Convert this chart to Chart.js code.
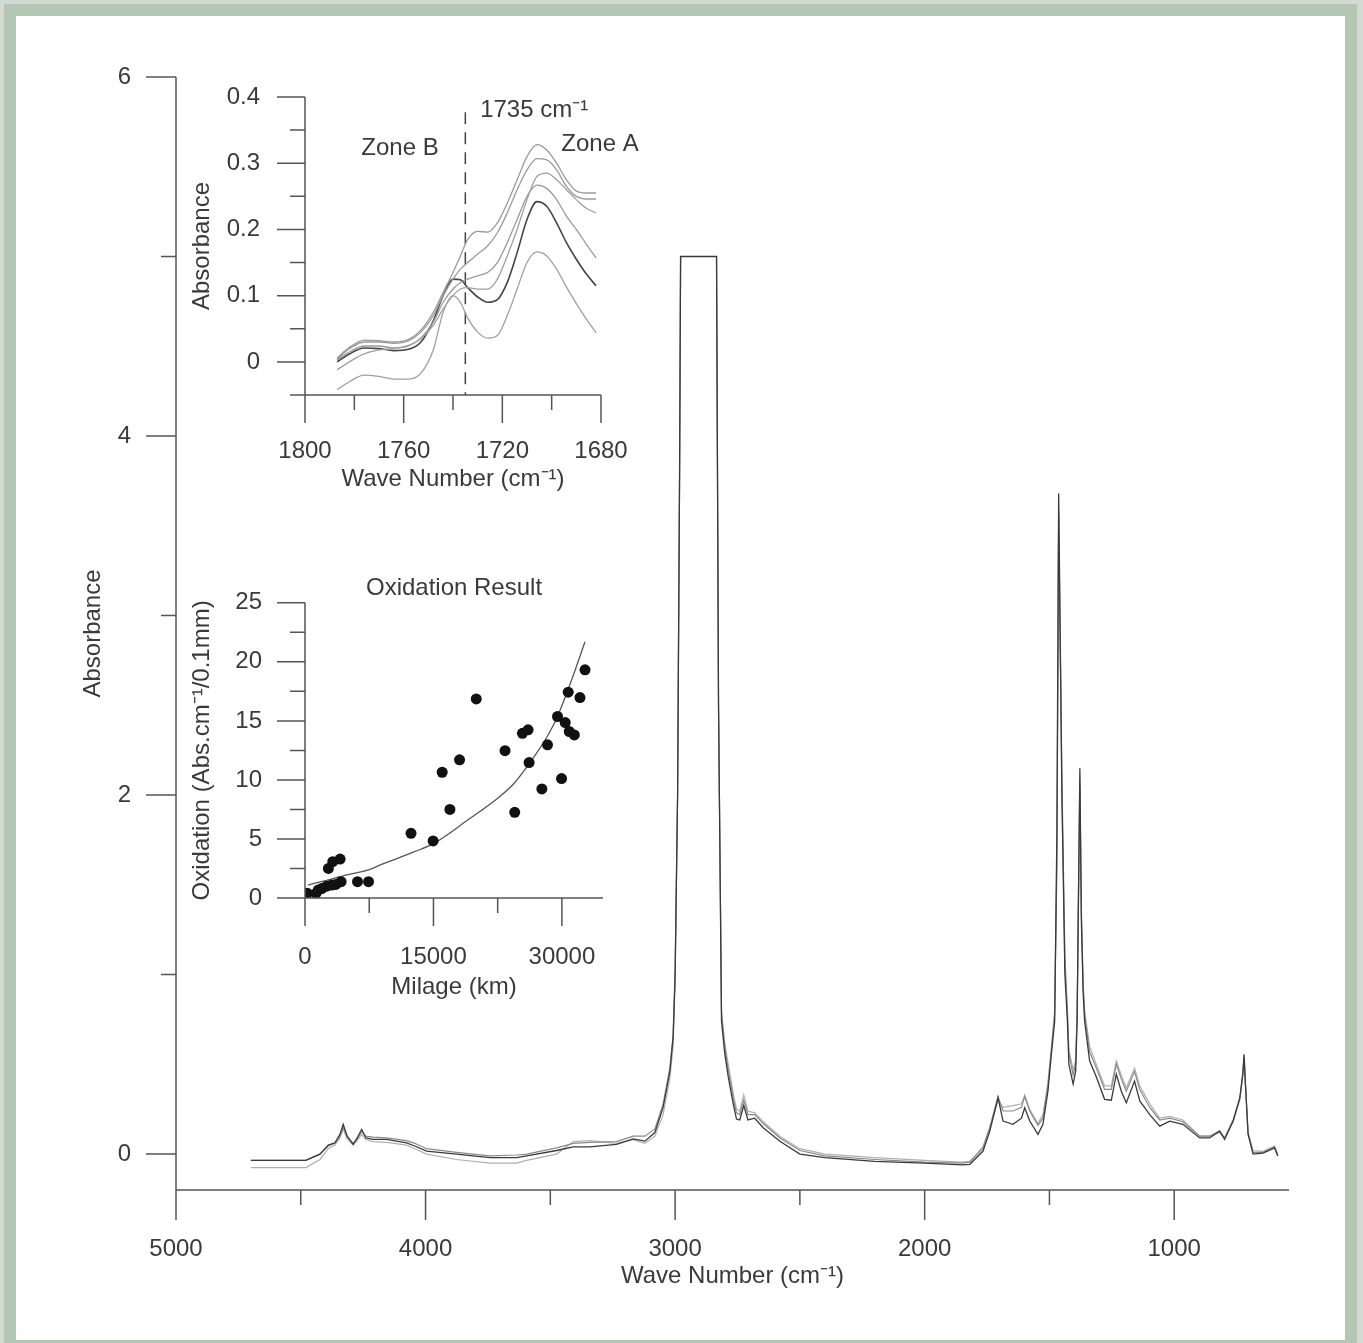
<!DOCTYPE html>
<html>
<head>
<meta charset="utf-8">
<script src="https://cdn.jsdelivr.net/npm/chart.js@4.4.0/dist/chart.umd.min.js"></script>
<style>
  html, body { margin: 0; padding: 0; }
  body { width: 1363px; height: 1343px; background: #d3d9d3; position: relative; overflow: hidden; }
  #frame { position: absolute; left: 4px; top: 4px; width: 1353px; height: 1348px; box-sizing: border-box;
           border: 12px solid #b4c6b4; background: #fff; }
  canvas { position: absolute; }
</style>
</head>
<body>
<div id="frame"></div>
<canvas id="main" width="1363" height="1343" style="left:0;top:0"></canvas>
<canvas id="zoom" width="480" height="440" style="left:180px;top:60px"></canvas>
<canvas id="oxid" width="480" height="460" style="left:180px;top:560px"></canvas>
<script>
// main spectrum (cm-1 -> absorbance), three overlapping samples
var waveNumbers = [4700, 4480, 4423, 4390, 4363, 4343, 4330, 4314, 4290, 4274,
  4256, 4239, 4210, 4156, 4076, 4043, 3996, 3876, 3742, 3635,
  3595, 3475, 3408, 3342, 3235, 3168, 3121, 3081, 3048, 3021,
  3008, 3000, 2990, 2982, 2978, 2834, 2826, 2814, 2801, 2787,
  2767, 2754, 2741, 2725, 2708, 2681, 2647, 2580, 2500, 2400,
  2200, 2000, 1850, 1819, 1766, 1739, 1706, 1686, 1646, 1612,
  1599, 1579, 1546, 1526, 1506, 1492, 1479, 1470, 1463, 1450,
  1438, 1428, 1422, 1405, 1395, 1389, 1384, 1378, 1372, 1365,
  1359, 1339, 1312, 1279, 1252, 1232, 1212, 1192, 1159, 1138,
  1098, 1058, 1018, 965, 898, 858, 818, 798, 764, 737,
  725, 720, 715, 704, 684, 644, 598, 585];
var absDark = [-0.035, -0.035, 0.0, 0.05, 0.063, 0.11, 0.166, 0.1, 0.054, 0.09,
  0.138, 0.09, 0.082, 0.082, 0.063, 0.045, 0.017, 0.0, -0.02, -0.02,
  -0.01, 0.02, 0.04, 0.04, 0.054, 0.085, 0.072, 0.12, 0.26, 0.46,
  0.65, 1.0, 2.0, 3.8, 5.0, 5.0, 2.5, 0.74, 0.56, 0.43,
  0.28, 0.195, 0.19, 0.27, 0.19, 0.2, 0.147, 0.072, 0.0, -0.02,
  -0.04, -0.05, -0.06, -0.057, 0.017, 0.128, 0.314, 0.184, 0.166, 0.2,
  0.258, 0.184, 0.11, 0.166, 0.35, 0.56, 0.74, 1.8, 3.68, 2.0,
  1.0, 0.74, 0.5, 0.39, 0.46, 0.74, 1.4, 2.15, 1.3, 0.9,
  0.74, 0.52, 0.43, 0.305, 0.3, 0.445, 0.35, 0.286, 0.407, 0.296,
  0.22, 0.156, 0.184, 0.166, 0.09, 0.09, 0.128, 0.082, 0.184, 0.314,
  0.45, 0.556, 0.4, 0.11, 0.0, 0.005, 0.035, -0.01];
var absMid = [-0.035, -0.035, 0.0, 0.045, 0.06, 0.1, 0.15, 0.095, 0.06, 0.085,
  0.125, 0.1, 0.095, 0.09, 0.075, 0.06, 0.03, 0.01, -0.01, -0.005,
  0.0, 0.035, 0.06, 0.065, 0.07, 0.1, 0.1, 0.14, 0.28, 0.48,
  0.66, 1.0, 2.0, 3.8, 5.0, 5.0, 2.5, 0.78, 0.6, 0.47,
  0.31, 0.23, 0.22, 0.3, 0.22, 0.22, 0.17, 0.09, 0.02, -0.01,
  -0.03, -0.045, -0.05, -0.045, 0.04, 0.15, 0.32, 0.24, 0.24, 0.26,
  0.32, 0.24, 0.16, 0.2, 0.38, 0.58, 0.78, 1.6, 3.55, 2.1,
  1.1, 0.8, 0.56, 0.44, 0.5, 0.78, 1.35, 2.05, 1.35, 0.95,
  0.78, 0.57, 0.48, 0.36, 0.36, 0.5, 0.42, 0.35, 0.46, 0.36,
  0.26, 0.19, 0.2, 0.18, 0.1, 0.1, 0.13, 0.09, 0.19, 0.31,
  0.45, 0.54, 0.4, 0.12, 0.01, 0.01, 0.04, -0.005];
var absLight = [-0.075, -0.075, -0.03, 0.03, 0.05, 0.09, 0.14, 0.085, 0.05, 0.075,
  0.11, 0.08, 0.07, 0.065, 0.05, 0.03, 0.0, -0.03, -0.05, -0.05,
  -0.035, 0.0, 0.07, 0.075, 0.06, 0.08, 0.06, 0.1, 0.22, 0.42,
  0.6, 0.95, 2.0, 3.8, 5.0, 5.0, 2.5, 0.8, 0.62, 0.5,
  0.34, 0.25, 0.24, 0.33, 0.24, 0.23, 0.18, 0.1, 0.03, 0.0,
  -0.02, -0.035, -0.045, -0.04, 0.03, 0.14, 0.3, 0.26, 0.27, 0.28,
  0.33, 0.25, 0.17, 0.22, 0.4, 0.6, 0.8, 1.7, 3.6, 2.0,
  1.05, 0.8, 0.58, 0.47, 0.52, 0.8, 1.4, 2.1, 1.35, 0.95,
  0.8, 0.6, 0.5, 0.38, 0.38, 0.52, 0.44, 0.37, 0.48, 0.38,
  0.28, 0.2, 0.21, 0.19, 0.1, 0.1, 0.12, 0.09, 0.18, 0.3,
  0.44, 0.53, 0.4, 0.12, 0.02, 0.015, 0.045, 0.0];
var mainXTicks = [5000, 4000, 3000, 2000, 1000];
var mainXMinor = [4500, 3500, 2500, 1500];
var mainYTicks = [0, 2, 4, 6];
var mainYMinor = [1, 3, 5];

// carbonyl zoom inset
var zoomWave = [1787, 1782, 1776, 1770, 1764, 1758, 1753, 1748, 1744, 1740, 1737, 1734, 1730,
  1726, 1722, 1718, 1714, 1710, 1706, 1702, 1698, 1694, 1690, 1686, 1682];
var zoom1 = [0.006, 0.022, 0.033, 0.032, 0.030, 0.034, 0.048, 0.075, 0.105, 0.135, 0.160, 0.185, 0.197,
  0.196, 0.210, 0.240, 0.275, 0.310, 0.328, 0.320, 0.300, 0.275, 0.258, 0.255, 0.255];
var zoom2 = [0.004, 0.020, 0.030, 0.030, 0.028, 0.032, 0.045, 0.070, 0.100, 0.125, 0.140, 0.150, 0.163,
  0.175, 0.195, 0.225, 0.260, 0.290, 0.307, 0.305, 0.290, 0.265, 0.250, 0.246, 0.246];
var zoom3 = [-0.012, 0.000, 0.012, 0.018, 0.020, 0.025, 0.035, 0.055, 0.080, 0.100, 0.110, 0.112, 0.110,
  0.110, 0.125, 0.160, 0.200, 0.245, 0.280, 0.285, 0.275, 0.260, 0.245, 0.232, 0.225];
var zoom4 = [0.003, 0.015, 0.024, 0.024, 0.021, 0.024, 0.036, 0.060, 0.090, 0.110, 0.120, 0.125, 0.130,
  0.135, 0.150, 0.180, 0.215, 0.250, 0.267, 0.262, 0.245, 0.220, 0.200, 0.178, 0.157];
var zoom5 = [0.000, 0.012, 0.021, 0.020, 0.017, 0.019, 0.030, 0.062, 0.100, 0.125, 0.124, 0.112, 0.098,
  0.090, 0.094, 0.120, 0.165, 0.215, 0.242, 0.235, 0.210, 0.180, 0.155, 0.133, 0.115];
var zoom6 = [-0.042, -0.030, -0.020, -0.022, -0.026, -0.026, -0.017, 0.018, 0.075, 0.100, 0.090, 0.066, 0.045,
  0.036, 0.040, 0.070, 0.110, 0.150, 0.166, 0.160, 0.140, 0.113, 0.088, 0.065, 0.044];
var zoomXTicks = [1800, 1760, 1720, 1680];
var zoomXMinor = [1780, 1740, 1700];
var zoomYTicks = [0, 0.1, 0.2, 0.3, 0.4];
var zoomYMinor = [-0.05, 0.05, 0.15, 0.25, 0.35];

// oxidation vs milage inset
var mileage = [273, 1290, 1560, 1950, 2540, 3125, 3600, 4220, 6130, 7420, 2730, 3240, 4100,
  12380, 14960, 16020, 16920, 18050, 20000, 23360, 24490, 25390, 26050, 26170, 27660,
  28320, 29490, 29960, 30390, 30740, 30860, 31450, 32110, 32700];
var oxidation = [0.4, 0.4, 0.68, 0.8, 1.0, 1.1, 1.15, 1.38, 1.38, 1.38, 2.5, 3.08, 3.3,
  5.48, 4.83, 10.65, 7.5, 11.7, 16.86, 12.48, 7.26, 13.95, 14.24, 11.47, 9.24,
  12.97, 15.37, 10.11, 14.86, 17.43, 14.1, 13.81, 16.97, 19.32];
var fitMileage = [350, 2500, 4900, 7500, 8800, 12700, 15000, 19000, 22500, 24400, 26200, 28300, 29500, 31000, 32700];
var fitOxidation = [1.1, 1.5, 1.95, 2.4, 2.8, 3.9, 4.6, 6.6, 8.45, 9.7, 11.4, 13.7, 15.4, 18.2, 21.7];
var oxXTicks = [0, 15000, 30000];
var oxXMinor = [7500, 22500];
var oxYTicks = [0, 5, 10, 15, 20, 25];
var oxYMinor = [2.5, 7.5, 12.5, 17.5, 22.5];

var FONT = "'Liberation Sans', Arial, sans-serif";
var TEXT = '#3a3a3a';
Chart.defaults.font.family = FONT;
Chart.defaults.font.size = 24;
Chart.defaults.color = TEXT;

function pts(xs, ys) {
  return xs.map(function (x, i) { return { x: x, y: ys[i] }; });
}

// axis lines and outward ticks drawn with the chart's own scales
var axisFrame = {
  id: 'axisFrame',
  afterDraw: function (chart, args, o) {
    var ctx = chart.ctx, a = chart.chartArea, x = chart.scales.x, y = chart.scales.y;
    ctx.save();
    ctx.strokeStyle = '#555';
    ctx.lineWidth = 1.5;
    ctx.beginPath();
    ctx.moveTo(a.left, y.getPixelForValue(o.yTop));
    ctx.lineTo(a.left, a.bottom);
    ctx.lineTo(a.right, a.bottom);
    o.yMajor.forEach(function (v) { var p = y.getPixelForValue(v); ctx.moveTo(a.left - o.major, p); ctx.lineTo(a.left, p); });
    o.yMinor.forEach(function (v) { var p = y.getPixelForValue(v); ctx.moveTo(a.left - o.minor, p); ctx.lineTo(a.left, p); });
    o.xMajor.forEach(function (v) { var p = x.getPixelForValue(v); ctx.moveTo(p, a.bottom); ctx.lineTo(p, a.bottom + o.major); });
    o.xMinor.forEach(function (v) { var p = x.getPixelForValue(v); ctx.moveTo(p, a.bottom); ctx.lineTo(p, a.bottom + o.minor); });
    ctx.stroke();
    ctx.fillStyle = TEXT;
    ctx.font = '24px ' + FONT;
    ctx.textBaseline = 'middle';
    (o.notes || []).forEach(function (n) {
      ctx.textAlign = n.align;
      ctx.fillText(n.text, x.getPixelForValue(n.x), y.getPixelForValue(n.y));
    });
    ctx.restore();
  }
};

// labels are pushed off the axis by an invisible tick mark (gap), so the
// scale does not reserve extra room above / beside the plot for them
function scaleOpts(min, max, ticks, gap, fit, title, reverse) {
  return {
    type: 'linear', min: min, max: max, reverse: !!reverse,
    grid: { display: true, drawOnChartArea: false, drawTicks: true, tickLength: gap, tickColor: 'rgba(0,0,0,0)' },
    border: { display: false },
    afterBuildTicks: function (s) { s.ticks = ticks.map(function (v) { return { value: v }; }); },
    afterFit: fit,
    ticks: { padding: 0, callback: function (v) { return String(v); } },
    title: { display: true, text: title, padding: 0, font: { size: 24 } }
  };
}

new Chart(document.getElementById('main'), {
  type: 'line',
  data: {
    datasets: [
      { data: pts(waveNumbers, absDark), borderColor: '#3a3a3a', borderWidth: 1.3, pointRadius: 0 },
      { data: pts(waveNumbers, absMid), borderColor: '#8a8a8a', borderWidth: 1.2, pointRadius: 0 },
      { data: pts(waveNumbers, absLight), borderColor: '#b0b0b0', borderWidth: 1.2, pointRadius: 0 }
    ]
  },
  options: {
    responsive: false, animation: false,
    layout: { padding: { left: 79, top: 77, right: 74, bottom: 52 } },
    plugins: {
      legend: { display: false }, tooltip: { enabled: false },
      axisFrame: { yTop: 6, major: 30, minor: 15, xMajor: mainXTicks, xMinor: mainXMinor, yMajor: mainYTicks, yMinor: mainYMinor }
    },
    scales: {
      x: scaleOpts(540, 5000, mainXTicks, 45, function (s) { s.height = 101; }, 'Wave Number (cm\u207B\u00B9)', true),
      y: scaleOpts(-0.2, 6, mainYTicks, 45, function (s) { s.width = 97; }, 'Absorbance')
    }
  },
  plugins: [axisFrame]
});

var zoomColors = ['#9a9a9a', '#9a9a9a', '#a0a0a0', '#9a9a9a', '#444', '#a0a0a0'];
var zoomSeries = [zoom1, zoom2, zoom3, zoom4, zoom5, zoom6];
var zoomSets = zoomSeries.map(function (s, i) {
  return { data: pts(zoomWave, s), borderColor: zoomColors[i], borderWidth: i === 4 ? 1.6 : 1.3,
           pointRadius: 0, cubicInterpolationMode: 'monotone' };
});
zoomSets.push({ data: pts([1735, 1735], [0.377, -0.05]), borderColor: '#444', borderWidth: 1.5,
                borderDash: [12, 8], pointRadius: 0 });

new Chart(document.getElementById('zoom'), {
  type: 'line',
  data: { datasets: zoomSets },
  options: {
    responsive: false, animation: false,
    layout: { padding: { left: 8, top: 37, right: 59, bottom: 6 } },
    plugins: {
      legend: { display: false }, tooltip: { enabled: false },
      axisFrame: {
        yTop: 0.4, major: 28, minor: 15, xMajor: zoomXTicks, xMinor: zoomXMinor, yMajor: zoomYTicks, yMinor: zoomYMinor,
        notes: [
          { text: 'Zone B', x: 1761.5, y: 0.323, align: 'center' },
          { text: 'Zone A', x: 1680.4, y: 0.328, align: 'center' },
          { text: '1735 cm\u207B\u00B9', x: 1729, y: 0.38, align: 'left' }
        ]
      }
    },
    scales: {
      x: scaleOpts(1680, 1800, zoomXTicks, 42, function (s) { s.height = 99; }, 'Wave Number (cm\u207B\u00B9)', true),
      y: scaleOpts(-0.05, 0.4, zoomYTicks, 45, function (s) { s.width = 117; }, 'Absorbance')
    }
  },
  plugins: [axisFrame]
});

new Chart(document.getElementById('oxid'), {
  type: 'line',
  data: {
    datasets: [
      { data: pts(mileage, oxidation), showLine: false, pointRadius: 5.5, backgroundColor: '#111',
        borderWidth: 0, pointBorderWidth: 0 },
      { data: pts(fitMileage, fitOxidation), borderColor: '#555', borderWidth: 1.3, pointRadius: 0,
        cubicInterpolationMode: 'monotone' }
    ]
  },
  options: {
    responsive: false, animation: false,
    layout: { padding: { left: 8, top: 0, right: 57, bottom: 18 } },
    plugins: {
      legend: { display: false }, tooltip: { enabled: false },
      title: { display: true, text: 'Oxidation Result', fullSize: false, color: TEXT,
               font: { size: 24, weight: 'normal' }, padding: { top: 14, bottom: 0 } },
      axisFrame: { yTop: 25, major: 28, minor: 15, xMajor: oxXTicks, xMinor: oxXMinor, yMajor: oxYTicks, yMinor: oxYMinor }
    },
    scales: {
      x: scaleOpts(0, 34800, oxXTicks, 45, function (s) { s.height = 104; }, 'Milage (km)'),
      y: scaleOpts(0, 25, oxYTicks, 43, function (s) { s.width = 117; }, 'Oxidation (Abs.cm\u207B\u00B9/0.1mm)')
    }
  },
  plugins: [axisFrame]
});
</script>
</body>
</html>
